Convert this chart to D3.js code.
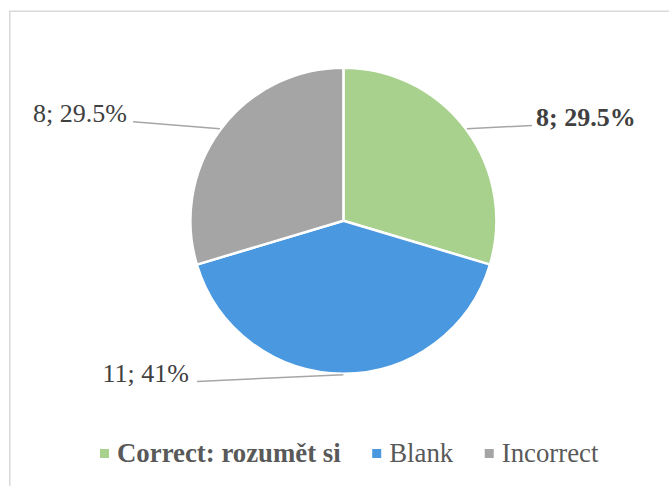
<!DOCTYPE html>
<html>
<head>
<meta charset="utf-8">
<script src="https://cdn.jsdelivr.net/npm/d3@7"></script>
<style>
  html, body { margin: 0; padding: 0; background: #fff; }
  svg { display: block; }
  text { font-family: "Liberation Serif", "Times New Roman", serif; }
</style>
</head>
<body>
<svg id="chart" width="669" height="486"></svg>
<script>
// ---- data ----
const categories = ["Correct: rozumět si", "Blank", "Incorrect"];
const counts = [8, 11, 8];
const percentLabels = ["29.5%", "41%", "29.5%"];
const colors = ["#a9d18e", "#4a98e0", "#a5a5a5"];
const boldFlags = [true, false, false];

// ---- layout ----
const W = 669, H = 486;
const cx = 343.4, cy = 220.7, R = 153;
// label anchor points (end of leader line) and text side
const labelLayout = [
  { x: 532, y: 125.5, anchor: "start", dx: 4 },
  { x: 197, y: 381.5, anchor: "end", dx: -8 },
  { x: 133, y: 121.7, anchor: "end", dx: -6 }
];

const svg = d3.select("#chart");

// outer frame (extends beyond the visible area at right/bottom)
svg.append("rect")
  .attr("x", 9.75).attr("y", 11.25)
  .attr("width", W + 10).attr("height", H + 10)
  .attr("fill", "none").attr("stroke", "#d9d9d9").attr("stroke-width", 1.5);

const pie = d3.pie().sort(null).value(d => d).startAngle(0).endAngle(2 * Math.PI);
const arcs = pie(counts);
const arc = d3.arc().innerRadius(0).outerRadius(R);

const g = svg.append("g").attr("transform", `translate(${cx},${cy})`);
g.selectAll("path.slice")
  .data(arcs)
  .join("path")
  .attr("class", "slice")
  .attr("d", arc)
  .attr("fill", (d, i) => colors[i])
  .attr("stroke", "#fff")
  .attr("stroke-width", 2.5)
  .attr("stroke-linejoin", "round");

// leader lines from mid-angle point on the rim
arcs.forEach((d, i) => {
  const mid = (d.startAngle + d.endAngle) / 2;
  const px = cx + (R + 1) * Math.sin(mid);
  const py = cy - (R + 1) * Math.cos(mid);
  const L = labelLayout[i];
  svg.append("line")
    .attr("x1", px).attr("y1", py)
    .attr("x2", L.x).attr("y2", L.y)
    .attr("stroke", "#a6a6a6").attr("stroke-width", 1.5);
  svg.append("text")
    .attr("x", L.x + L.dx).attr("y", L.y + 0.5)
    .attr("text-anchor", L.anchor)
    .attr("font-size", 26)
    .attr("font-weight", boldFlags[i] ? "bold" : "normal")
    .attr("fill", "#404040")
    .text(`${counts[i]}; ${percentLabels[i]}`);
});

// legend
const legend = svg.append("g");
let lx = 100;
const ly = 462;
categories.forEach((c, i) => {
  legend.append("rect")
    .attr("x", lx).attr("y", ly - 13)
    .attr("width", 9).attr("height", 9)
    .attr("fill", colors[i]);
  const t = legend.append("text")
    .attr("x", lx + 17).attr("y", ly)
    .attr("font-size", 26.8)
    .attr("font-weight", boldFlags[i] ? "bold" : "normal")
    .attr("fill", "#595959")
    .text(c);
  lx = lx + 17 + t.node().getComputedTextLength() + 31.5;
});
</script>
</body>
</html>
